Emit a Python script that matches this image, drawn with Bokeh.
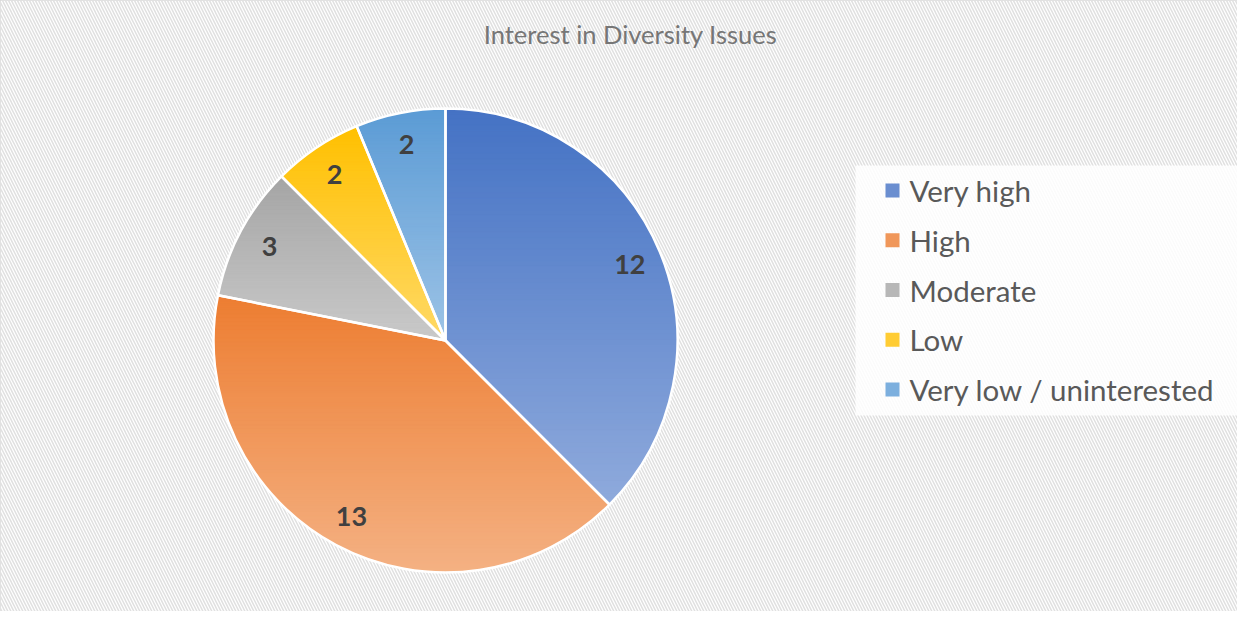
import numpy as np
from bokeh.plotting import figure
from bokeh.models import ColumnDataSource, Range1d, BoxAnnotation
from bokeh.core.properties import value
from bokeh.embed import file_html
from bokeh.resources import INLINE

# ---- data ----
chart_title = "Interest in Diversity Issues"
categories = ["Very high", "High", "Moderate", "Low", "Very low / uninterested"]
counts = [12, 13, 3, 2, 2]
top_colors = ["#4472C4", "#ED7D31", "#A5A5A5", "#FFC000", "#5B9BD5"]
bottom_colors = ["#8FAADC", "#F4B183", "#C9C9C9", "#FFD966", "#9DC3E6"]

# ---- layout (data units == pixels) ----
W, H = 1237, 611
cx, cy, R = 445, 271, 232
FONT = "Lato"

p = figure(width=W, height=H, x_range=Range1d(0, W), y_range=Range1d(0, H),
           output_backend="svg", toolbar_location=None, min_border=0)
p.axis.visible = False
p.grid.visible = False
p.outline_line_color = "#d9d9d9"
p.outline_line_width = 2
p.background_fill_color = "white"
p.border_fill_color = "white"

# hatched chart background
p.add_layout(BoxAnnotation(fill_color="white", fill_alpha=1.0, line_color=None,
                           hatch_pattern="\\", hatch_color="#e0e0e0",
                           hatch_scale=6, hatch_weight=1.5, level="underlay"))

total = float(sum(counts))
spans = np.array(counts) / total * 2 * np.pi
starts = np.pi / 2 - np.concatenate([[0], np.cumsum(spans)[:-1]])
ends = starts - spans
mids = (starts + ends) / 2


def hex2rgb(h):
    h = h.lstrip("#")
    return np.array([int(h[i:i + 2], 16) for i in (0, 2, 4)], dtype=float)


def rgb2hex(c):
    c = np.clip(np.round(c), 0, 255).astype(int)
    return "#%02x%02x%02x" % tuple(c)


def clip_half(poly, yv, keep_above):
    out = []
    n = len(poly)
    for i in range(n):
        a = poly[i]
        b = poly[(i + 1) % n]
        ina = a[1] >= yv if keep_above else a[1] <= yv
        inb = b[1] >= yv if keep_above else b[1] <= yv
        if ina:
            out.append(a)
        if ina != inb:
            t = (yv - a[1]) / (b[1] - a[1])
            out.append((a[0] + t * (b[0] - a[0]), yv))
    return out


# gradient bands for each slice (fill of the slice, top dark -> bottom light)
bx, by, bc = [], [], []
NB = 70
for s, e, c0, c1 in zip(starts, ends, top_colors, bottom_colors):
    th = np.linspace(s, e, 120)
    poly = [(cx, cy)] + [(cx + R * np.cos(t), cy + R * np.sin(t)) for t in th]
    ys_all = [q[1] for q in poly]
    ylo, yhi = min(ys_all), max(ys_all)
    edges = np.linspace(yhi, ylo, NB + 1)
    a, b = hex2rgb(c0), hex2rgb(c1)
    for k in range(NB):
        top, bot = edges[k] + 0.6, edges[k + 1] - 0.6
        part = clip_half(poly, top, keep_above=False)
        if len(part) < 3:
            continue
        part = clip_half(part, bot, keep_above=True)
        if len(part) < 3:
            continue
        t = (k + 0.5) / NB
        bx.append([q[0] for q in part])
        by.append([q[1] for q in part])
        bc.append(rgb2hex(a + (b - a) * t))

p.patches(xs="xs", ys="ys", fill_color="c", line_color="c", line_width=0.8,
          source=ColumnDataSource(dict(xs=bx, ys=by, c=bc)))

# slice outlines
wsrc = ColumnDataSource(dict(start=starts, end=ends, cat=categories))
p.wedge(x=cx, y=cy, radius=R, start_angle="start", end_angle="end",
        direction="clock", fill_alpha=0, line_color="white", line_width=2.5,
        source=wsrc)

# data labels
lr = 0.86 * R
lsrc = ColumnDataSource(dict(x=cx + lr * np.cos(mids), y=cy + lr * np.sin(mids),
                             t=[str(v) for v in counts]))
p.text(x="x", y="y", text="t", source=lsrc, text_align="center",
       text_baseline="middle", text_font=value(FONT), text_font_style="bold",
       text_font_size="27px", text_color="#404040")

# title
p.text(x=[630], y=[578], text=[chart_title], text_align="center",
       text_baseline="middle", text_font=value(FONT), text_font_size="25.5px",
       text_color="#767676")

# legend
p.quad(left=[855], right=[1237], bottom=[196], top=[446], fill_color="white",
       fill_alpha=0.85, line_color=None)
ly = [421 - 49.75 * i for i in range(len(categories))]
mid_colors = [rgb2hex((hex2rgb(a) + hex2rgb(b)) / 2) for a, b in zip(top_colors, bottom_colors)]
p.rect(x=[892] * len(categories), y=ly, width=14, height=14,
       fill_color=mid_colors, line_color=None)
p.text(x=[909] * len(categories), y=ly, text=categories, text_align="left",
       text_baseline="middle", text_font=value(FONT), text_font_size="29.5px",
       text_color="#595959")

open("out.html", "w").write(file_html(p, INLINE))
